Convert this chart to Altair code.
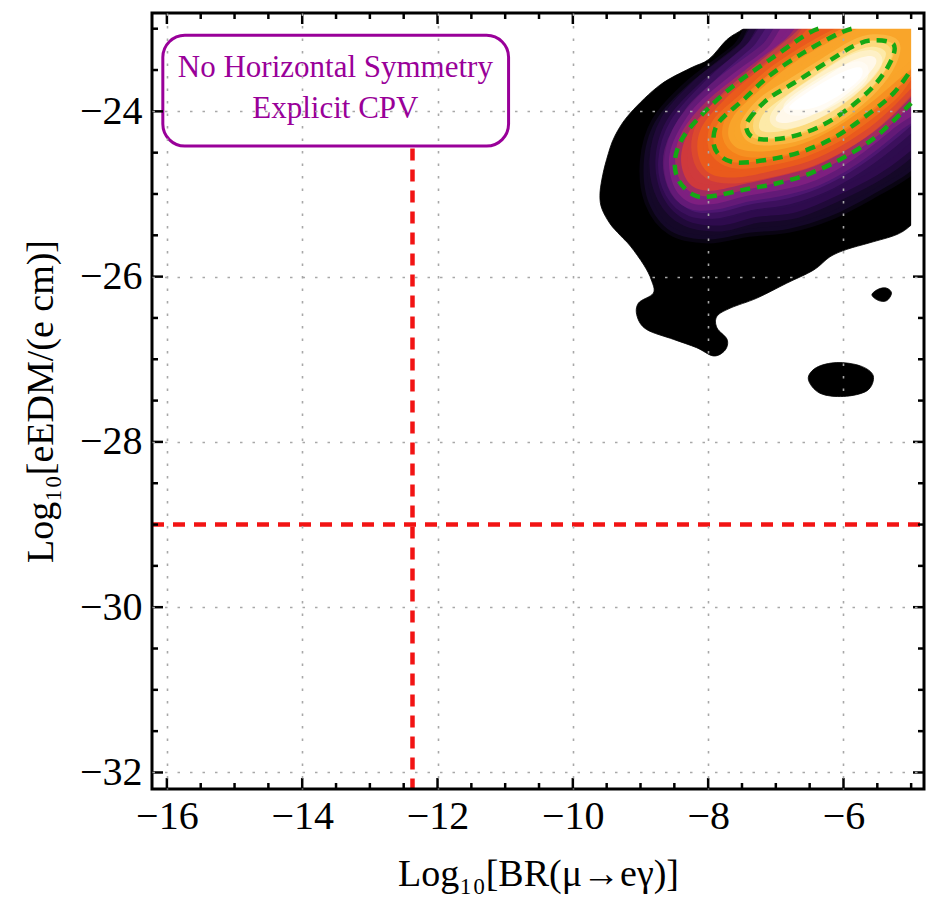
import altair as alt
import pandas as pd

# ---------------- axes ----------------
X_DOMAIN = [-16.22, -4.81]
Y_DOMAIN = [-32.2, -22.81]
W, H = 772, 776

x_major = [-16, -14, -12, -10, -8, -6]
x_minor = [-15.5, -15, -14.5, -13.5, -13, -12.5, -11.5, -11, -10.5, -9.5, -9,
           -8.5, -7.5, -7, -6.5, -5.5, -5]
y_major = [-32, -30, -28, -26, -24]
y_minor = [-31.5, -31, -30.5, -29.5, -29, -28.5, -27.5, -27, -26.5, -25.5, -25,
           -24.5, -23.5, -23]

x_title = "Log\u2081\u2080[BR(\u03bc\u2192e\u03b3)]"
y_title = "Log\u2081\u2080[eEDM/(e cm)]"

# ---------------- density region ----------------
region_outer = [(-7.30, -22.85), (-7.48, -23.00), (-7.72, -23.13), (-7.99, -23.37),
                (-8.27, -23.48), (-8.71, -23.68), (-9.15, -24.02), (-9.38, -24.30),
                (-9.50, -24.58), (-9.57, -24.82), (-9.60, -25.02), (-9.57, -25.18),
                (-9.45, -25.36), (-9.30, -25.50), (-9.15, -25.63), (-8.95, -25.86),
                (-8.84, -26.04), (-8.81, -26.20), (-9.03, -26.32), (-9.05, -26.48),
                (-8.91, -26.64), (-8.51, -26.76), (-8.17, -26.86), (-7.92, -26.96),
                (-7.75, -26.89), (-7.72, -26.76), (-7.87, -26.62), (-7.87, -26.48),
                (-7.67, -26.38), (-7.28, -26.26), (-6.84, -26.08), (-6.44, -25.92),
                (-6.20, -25.76), (-5.95, -25.67), (-5.61, -25.59), (-5.21, -25.49),
                (-4.99, -25.37), (-4.70, -25.15), (-4.70, -22.85)]
blob_small = [(-5.58, -26.22), (-5.48, -26.15), (-5.36, -26.14), (-5.29, -26.20),
              (-5.36, -26.29), (-5.48, -26.29)]
blob_oval = [(-6.52, -27.24), (-6.40, -27.10), (-6.10, -27.04), (-5.75, -27.08),
             (-5.56, -27.20), (-5.65, -27.38), (-6.00, -27.45), (-6.35, -27.41)]

band1 = [(-7.02, -22.80), (-7.60, -23.24), (-8.30, -23.68), (-8.78, -24.12), (-8.95, -24.60),
         (-8.88, -25.10), (-8.55, -25.45), (-8.00, -25.55), (-7.40, -25.47), (-6.80, -25.42),
         (-6.20, -25.27), (-5.60, -25.02), (-5.00, -24.72), (-4.70, -24.40), (-4.70, -22.80)]
band2 = [(-6.88, -22.80), (-7.50, -23.25), (-8.15, -23.68), (-8.62, -24.12), (-8.78, -24.60),
         (-8.66, -25.05), (-8.32, -25.32), (-7.80, -25.38), (-7.30, -25.28), (-6.70, -25.22),
         (-6.10, -25.02), (-5.50, -24.77), (-5.00, -24.47), (-4.70, -24.20), (-4.70, -22.80)]
band3 = [(-6.74, -22.80), (-7.38, -23.25), (-8.00, -23.70), (-8.48, -24.15), (-8.65, -24.60),
         (-8.55, -24.98), (-8.25, -25.20), (-7.85, -25.22), (-7.35, -25.12), (-6.80, -25.05),
         (-6.20, -24.87), (-5.60, -24.57), (-5.00, -24.17), (-4.70, -23.90), (-4.70, -22.80)]
band4 = [(-6.56, -22.80), (-7.15, -23.25), (-7.75, -23.62), (-8.25, -24.00), (-8.56, -24.48),
         (-8.52, -24.88), (-8.28, -25.10), (-7.92, -25.12), (-7.42, -25.02), (-6.92, -24.95),
         (-6.40, -24.83), (-5.85, -24.58), (-5.25, -24.20), (-4.70, -23.78), (-4.70, -22.80)]
band5 = [(-6.25, -22.80), (-6.80, -23.18), (-7.40, -23.56), (-7.95, -23.92), (-8.30, -24.27),
         (-8.40, -24.60), (-8.27, -24.88), (-7.96, -24.96), (-7.42, -24.87), (-6.92, -24.78),
         (-6.42, -24.66), (-5.92, -24.45), (-5.42, -24.15), (-4.92, -23.74), (-4.70, -23.52),
         (-4.70, -22.80)]
band6 = [(-6.10, -22.80), (-6.75, -23.17), (-7.25, -23.50), (-7.75, -23.85), (-8.10, -24.20),
         (-8.15, -24.52), (-7.98, -24.75), (-7.60, -24.80), (-7.05, -24.72), (-6.50, -24.60),
         (-6.00, -24.40), (-5.50, -24.12), (-5.00, -23.72), (-4.70, -23.40), (-4.70, -22.80)]
band7 = [(-5.70, -22.85), (-5.88, -23.00), (-6.10, -23.07), (-6.59, -23.29), (-7.08, -23.56),
         (-7.48, -23.86), (-7.85, -24.14), (-7.92, -24.38), (-7.82, -24.54), (-7.58, -24.62),
         (-7.08, -24.58), (-6.59, -24.48), (-6.10, -24.30), (-5.61, -24.02), (-5.26, -23.78),
         (-5.00, -23.50), (-4.75, -23.30), (-4.75, -22.85)]
band8 = [(-5.20, -22.85), (-5.80, -23.00), (-6.30, -23.20), (-6.80, -23.45), (-7.25, -23.75),
         (-7.62, -24.05), (-7.70, -24.30), (-7.52, -24.46), (-7.10, -24.48), (-6.60, -24.39),
         (-6.10, -24.19), (-5.65, -23.93), (-5.20, -23.62), (-4.85, -23.35), (-4.75, -23.00)]
band9 = [(-7.43, -24.22), (-7.40, -24.10), (-7.13, -23.86), (-6.74, -23.66), (-6.25, -23.41),
         (-5.85, -23.21), (-5.56, -23.14), (-5.26, -23.19), (-5.31, -23.41), (-5.56, -23.70),
         (-5.95, -23.98), (-6.34, -24.18), (-6.74, -24.30), (-7.08, -24.34), (-7.33, -24.32)]
band10 = [(-7.25, -24.18), (-7.15, -24.00), (-6.80, -23.78), (-6.30, -23.50), (-5.90, -23.30),
          (-5.60, -23.22), (-5.38, -23.28), (-5.45, -23.45), (-5.70, -23.70), (-6.05, -23.93),
          (-6.45, -24.12), (-6.85, -24.23), (-7.15, -24.25)]
band11 = [(-7.00, -24.08), (-6.75, -23.85), (-6.30, -23.60), (-5.90, -23.40), (-5.60, -23.33),
          (-5.52, -23.42), (-5.75, -23.65), (-6.10, -23.88), (-6.50, -24.06), (-6.85, -24.14)]
band12 = [(-6.80, -23.95), (-6.40, -23.70), (-6.00, -23.52), (-5.75, -23.47), (-5.75, -23.60),
          (-6.05, -23.80), (-6.45, -23.96)]

# dashed green contours
contour_outer = [(-6.37, -23.00), (-6.59, -23.09), (-7.08, -23.37), (-7.58, -23.66),
                 (-8.02, -23.98), (-8.36, -24.30), (-8.49, -24.58), (-8.44, -24.83),
                 (-8.22, -25.01), (-7.97, -25.03), (-7.48, -24.95), (-6.98, -24.87),
                 (-6.49, -24.75), (-6.00, -24.56), (-5.51, -24.30), (-5.00, -23.90)]
contour_mid = [(-5.88, -23.00), (-6.10, -23.07), (-6.59, -23.29), (-7.08, -23.56),
               (-7.48, -23.86), (-7.85, -24.14), (-7.92, -24.38), (-7.82, -24.54),
               (-7.58, -24.62), (-7.08, -24.58), (-6.59, -24.48), (-6.10, -24.30),
               (-5.61, -24.02), (-5.26, -23.78), (-5.00, -23.50)]
contour_inner = band9

# experimental limits and data-region edges
meg_limit_x = -12.37
meg_line_top = -24.45
eedm_limit_y = -29.0
data_edge_x = -5.0
data_edge_y = -23.0

label_lines = ["No Horizontal Symmetry", "Explicit CPV"]
label_x = -13.51
label_y = [-23.586, -24.076]
box = dict(x=-16.06, x2=-10.95, y=-23.08, y2=-24.42)

# ---------------- styles ----------------
band_colors = ["#000000", "#150828", "#2e0c4e", "#4e1670", "#7e2080", "#cf3a3c",
               "#ea5a1c", "#f5801a", "#f9a52a", "#fccc5a", "#fdeaa8", "#fff8ea", "#ffffff"]
SERIF = "Liberation Serif"
GREEN = "#14a814"
RED = "#f21414"
PURPLE = "#990099"

xs = alt.Scale(domain=X_DOMAIN, nice=False, zero=False)
ys = alt.Scale(domain=Y_DOMAIN, nice=False, zero=False)

x_axis = alt.Axis(values=x_major, ticks=False, domain=False, grid=True,
                  gridDash=[2.5, 10], gridColor="#a8a8a8", gridWidth=1.6,
                  labelFont=SERIF, labelFontSize=40, labelColor="black", labelPadding=7,
                  labelFlush=False, labelOverlap=False,
                  titleFont=SERIF, titleFontSize=38, titleFontWeight="normal",
                  titleColor="black", titleX=W / 2, titleY=96,
                  titleBaseline="alphabetic", titleAlign="center", zindex=1)
y_axis = alt.Axis(values=y_major, ticks=False, domain=False, grid=True,
                  gridDash=[2.5, 10], gridColor="#a8a8a8", gridWidth=1.6,
                  labelFont=SERIF, labelFontSize=40, labelColor="black", labelPadding=10,
                  labelFlush=False, labelOverlap=False,
                  titleFont=SERIF, titleFontSize=38, titleFontWeight="normal",
                  titleColor="black", titleX=-100, titleY=H / 2, titleAngle=270,
                  titleBaseline="alphabetic", titleAlign="center", zindex=1)


def X(field="x"):
    return alt.X(f"{field}:Q", scale=xs, axis=x_axis, title=x_title)


def Y(field="y"):
    return alt.Y(f"{field}:Q", scale=ys, axis=y_axis, title=y_title)


def pts_df(pts):
    return pd.DataFrame({"x": [p[0] for p in pts], "y": [p[1] for p in pts],
                         "i": list(range(len(pts)))})


layers = []

# filled density bands (soft wide strokes blend neighbouring bands)
polys = [(region_outer, 0), (blob_small, 0), (blob_oval, 0), (band1, 1), (band2, 2),
         (band3, 3), (band4, 4), (band5, 5), (band6, 6), (band7, 7), (band8, 8),
         (band9, 9), (band10, 10), (band11, 11), (band12, 12)]
for pts, lvl in polys:
    c = band_colors[lvl]
    soft = lvl > 0
    layers.append(
        alt.Chart(pts_df(pts)).mark_line(interpolate="cardinal-closed", fill=c, stroke=c,
                                         strokeWidth=(8 if lvl == 1 else 12) if soft else 0.8,
                                         strokeOpacity=0.45 if soft else 1,
                                         clip=True)
        .encode(x=X(), y=Y(), order="i:Q")
    )

# masks beyond the data region (x > -5, y > -23)
layers.append(
    alt.Chart(pd.DataFrame({"x": [data_edge_x]})).mark_rect(color="white")
    .encode(x=X(), x2=alt.value(W), y=alt.value(0), y2=alt.value(H))
)
layers.append(
    alt.Chart(pd.DataFrame({"y": [data_edge_y]})).mark_rect(color="white")
    .encode(y=Y(), y2=alt.value(0), x=alt.value(0), x2=alt.value(W))
)

# green dashed contours
for pts, interp in [(contour_outer, "cardinal"), (contour_mid, "cardinal"),
                    (contour_inner, "cardinal-closed")]:
    layers.append(
        alt.Chart(pts_df(pts)).mark_line(interpolate=interp, stroke=GREEN, strokeWidth=4.5,
                                         strokeDash=[10, 7], clip=True)
        .encode(x=X(), y=Y(), order="i:Q")
    )

# red dashed limits
layers.append(
    alt.Chart(pd.DataFrame({"x": [meg_limit_x], "y": [meg_line_top]}))
    .mark_rule(color=RED, strokeWidth=4.5, strokeDash=[12, 9])
    .encode(x=X(), y=Y(), y2=alt.value(H))
)
layers.append(
    alt.Chart(pd.DataFrame({"y": [eedm_limit_y]}))
    .mark_rule(color=RED, strokeWidth=4.5, strokeDash=[12, 9])
    .encode(y=Y(), x=alt.value(0), x2=alt.value(W))
)

# label box
layers.append(
    alt.Chart(pd.DataFrame({"x": [box["x"]], "x2": [box["x2"]], "y": [box["y"]],
                            "y2": [box["y2"]]}))
    .mark_rect(fill="white", stroke=PURPLE, strokeWidth=3, cornerRadius=22)
    .encode(x=X(), x2="x2:Q", y=Y(), y2="y2:Q")
)
layers.append(
    alt.Chart(pd.DataFrame({"x": [label_x, label_x], "y": label_y, "t": label_lines}))
    .mark_text(font=SERIF, fontSize=31, color=PURPLE, baseline="alphabetic", align="center")
    .encode(x=X(), y=Y(), text="t:N")
)

# frame ticks (inward, all four sides)
for vals, ln in [(x_major, 11), (x_minor, 6)]:
    d = pd.DataFrame({"x": vals})
    layers.append(alt.Chart(d).mark_rule(color="black", strokeWidth=2.5)
                  .encode(x=X(), y=alt.value(H), y2=alt.value(H - ln)))
    layers.append(alt.Chart(d).mark_rule(color="black", strokeWidth=2.5)
                  .encode(x=X(), y=alt.value(0), y2=alt.value(ln)))
for vals, ln in [(y_major, 11), (y_minor, 6)]:
    d = pd.DataFrame({"y": vals})
    layers.append(alt.Chart(d).mark_rule(color="black", strokeWidth=2.5)
                  .encode(y=Y(), x=alt.value(0), x2=alt.value(ln)))
    layers.append(alt.Chart(d).mark_rule(color="black", strokeWidth=2.5)
                  .encode(y=Y(), x=alt.value(W), x2=alt.value(W - ln)))

# frame
layers.append(
    alt.Chart(pd.DataFrame({"a": [0]})).mark_rect(fill="transparent", stroke="black",
                                                  strokeWidth=3)
    .encode(x=alt.value(0), x2=alt.value(W), y=alt.value(0), y2=alt.value(H))
)

chart = (
    alt.layer(*layers)
    .properties(width=W, height=H, autosize=alt.AutoSizeParams(type="none"),
                padding={"left": 152, "top": 13, "right": 5, "bottom": 112},
                background="white")
    .configure_view(stroke=None)
)

chart.save("out.html", embed_options={"renderer": "svg", "actions": False})
